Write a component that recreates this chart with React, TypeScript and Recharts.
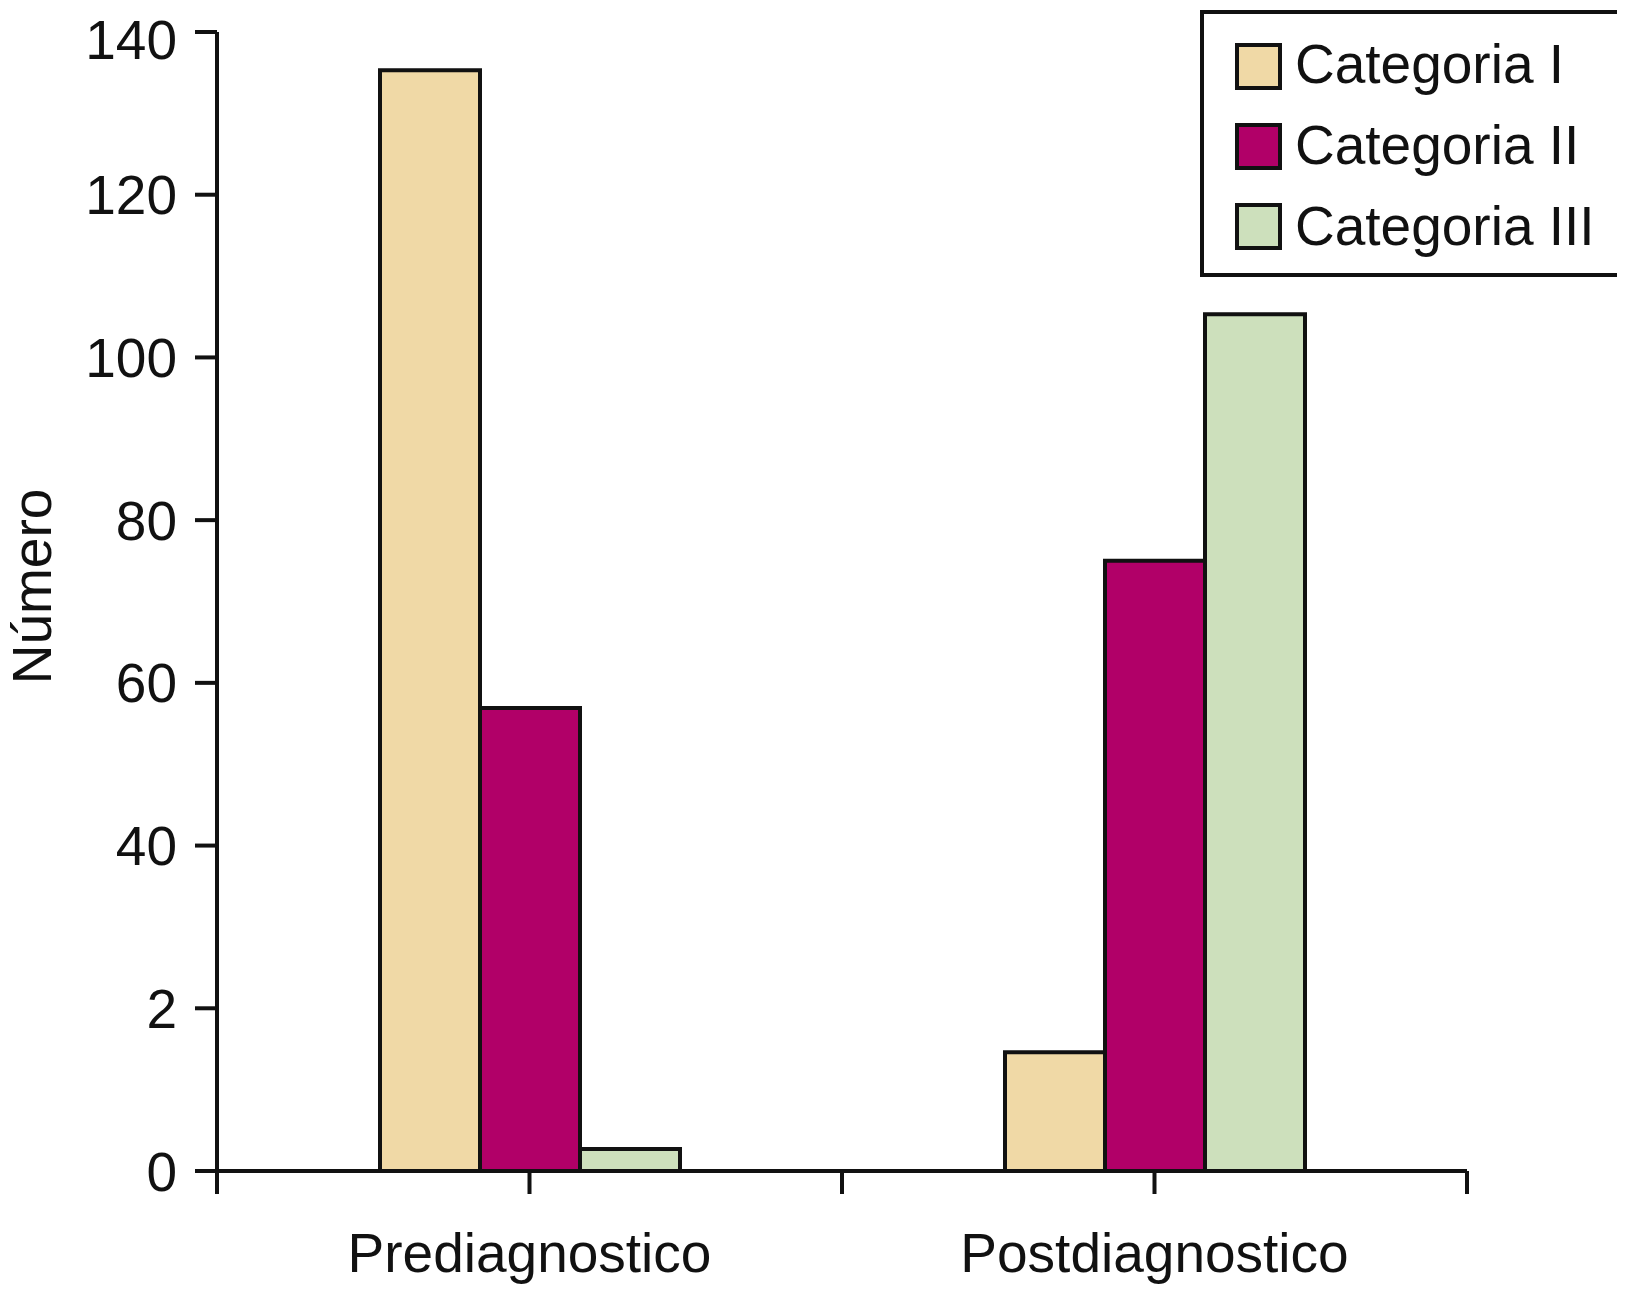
import { Bar, BarChart, Label, Legend, XAxis, YAxis } from "recharts";

const categories = ["Prediagnostico", "Postdiagnostico"];
const seriesNames = ["Categoria I", "Categoria II", "Categoria III"];
const categoriaI = [135.3, 14.6];
const categoriaII = [56.9, 75];
const categoriaIII = [2.7, 105.3];
const yTicks = [0, 20, 40, 60, 80, 100, 120, 140];
const yTickLabels = ["0", "2", "40", "60", "80", "100", "120", "140"];

const colors = ["#f0d9a6", "#b10068", "#cde0bc"];
const ink = "#111";
const font = "'Liberation Sans', Arial, Helvetica, sans-serif";

const data = categories.map((name, i) => ({
  name,
  c1: categoriaI[i],
  c2: categoriaII[i],
  c3: categoriaIII[i],
}));

// category tick: centre mark plus the band edges, label below
function CategoryTick(props: any) {
  const { x, y, payload, index, width } = props;
  const half = payload && payload.offset ? payload.offset : width / categories.length / 2;
  const marks = [x - half, x];
  if (index === categories.length - 1) marks.push(x + half);
  return (
    <g>
      {marks.map((mx) => (
        <line key={mx} x1={mx} x2={mx} y1={y} y2={y + 23} stroke={ink} strokeWidth={4} />
      ))}
      <text x={x} y={y + 101} textAnchor="middle" fontSize={55} fontFamily={font} fill={ink}>
        {payload.value}
      </text>
    </g>
  );
}

function LegendBox(props: any) {
  const payload = props.payload || [];
  return (
    <svg width={423} height={267} style={{ display: "block", overflow: "visible" }}>
      <rect x={2} y={2} width={419} height={263} fill="#fff" stroke={ink} strokeWidth={4} />
      {payload.map((entry: any, i: number) => (
        <g key={entry.value}>
          <rect
            x={37}
            y={35 + i * 80}
            width={43}
            height={43}
            fill={colors[i] || entry.color}
            stroke={ink}
            strokeWidth={4}
          />
          <text x={95} y={73 + i * 81} fontSize={55} fontFamily={font} fill={ink}>
            {entry.value}
          </text>
        </g>
      ))}
    </svg>
  );
}

function YTitle(props: any) {
  const vb = props.viewBox || { x: 0, y: 0, width: 0, height: 0 };
  const x = vb.x + 43;
  const y = vb.y + vb.height / 2 - 15;
  return (
    <text
      x={x}
      y={y}
      transform={`rotate(-90, ${x}, ${y})`}
      textAnchor="middle"
      fontSize={55}
      fontFamily={font}
      fill={ink}
    >
      Número
    </text>
  );
}

export default function App() {
  return (
    <div style={{ width: 1609, height: 1276, fontFamily: font }}>
      <BarChart
        width={1609}
        height={1276}
        data={data}
        margin={{ top: 24, right: 150, bottom: 0, left: 0 }}
        barSize={100}
        barGap={0}
      >
        <XAxis
          dataKey="name"
          height={113}
          axisLine={{ stroke: ink, strokeWidth: 4 }}
          tickLine={false}
          tickSize={0}
          tickMargin={0}
          interval={0}
          tick={<CategoryTick />}
        />
        <YAxis
          width={209}
          domain={[0, 140]}
          ticks={yTicks}
          tickFormatter={(v: number) => yTickLabels[yTicks.indexOf(v)]}
          axisLine={{ stroke: ink, strokeWidth: 4 }}
          tickLine={{ stroke: ink, strokeWidth: 4 }}
          tickSize={22}
          tickMargin={18}
          tick={{ fill: ink, fontSize: 55, fontFamily: font }}
        >
          <Label content={<YTitle />} />
        </YAxis>
        <Legend
          layout="vertical"
          align="center"
          verticalAlign="middle"
          content={<LegendBox />}
          wrapperStyle={{ left: 1192, top: 2, width: 423, height: 267 }}
        />
        <Bar dataKey="c1" name={seriesNames[0]} fill={colors[0]} stroke={ink} strokeWidth={4} isAnimationActive={false} />
        <Bar dataKey="c2" name={seriesNames[1]} fill={colors[1]} stroke={ink} strokeWidth={4} isAnimationActive={false} />
        <Bar dataKey="c3" name={seriesNames[2]} fill={colors[2]} stroke={ink} strokeWidth={4} isAnimationActive={false} />
      </BarChart>
    </div>
  );
}
